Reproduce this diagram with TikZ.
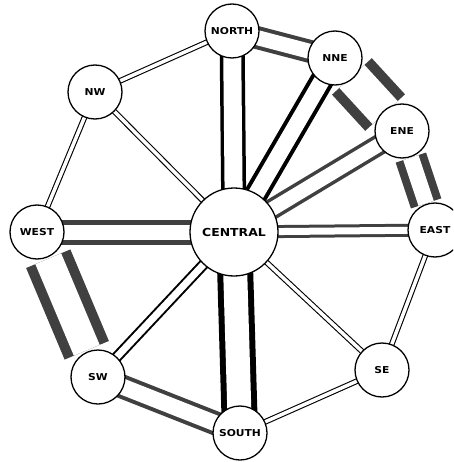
\documentclass[tikz,border=0pt]{standalone}
\usepackage{fontspec}
\newfontfamily\labfont[FakeStretch=1.13]{DejaVu Sans Bold}
\usetikzlibrary{backgrounds}
\begin{document}
\begin{tikzpicture}[x=1pt,y=-1pt,
  stn/.style={circle, draw=black, line width=1.3pt, fill=white, minimum size=54pt, inner sep=0pt,
              font=\labfont\fontsize{9.5}{10}\selectfont},
  hub/.style={stn, minimum size=88pt, font=\labfont\fontsize{11}{11}\selectfont},
  thinpair/.style={draw=black, line width=1.1pt, double=white, double distance=3.5pt},
  midpair/.style={draw=black, line width=2pt, double=white, double distance=7pt},
  blackpair/.style={draw=black, line width=4pt, double=white, double distance=16pt},
  hatchpair/.style={draw=black!75, line width=3.5pt, double=white, double distance=14pt},
  band/.style={draw=black!75, line width=10pt, double=white, double distance=28pt}
]
\useasboundingbox (0,0) rectangle (453,462);
\clip (0,0) rectangle (453,462);
% stations
\node[hub] (c)   at (234,232) {CENTRAL};
\node[stn] (n)   at (232,31)  {NORTH};
\node[stn] (nne) at (335,58)  {NNE};
\node[stn] (ene) at (402,131) {ENE};
\node[stn] (e)   at (435,230) {EAST};
\node[stn] (se)  at (382,370) {SE};
\node[stn] (s)   at (240,433) {SOUTH};
\node[stn] (sw)  at (98,377)  {SW};
\node[stn] (w)   at (37,232)  {WEST};
\node[stn] (nw)  at (95,92)   {NW};
% channels
\begin{scope}[on background layer]
  % thin double lines
  \draw[thinpair] (nw.center) -- (n.center);
  \draw[thinpair] (nw.center) -- (w.center);
  \draw[thinpair] (nw.center) -- (c.center);
  \draw[thinpair] (c.center) -- (se.center);
  \draw[thinpair] (se.center) -- (s.center);
  \draw[thinpair] (se.center) -- (e.center);
  % medium double line
  \draw[midpair] (sw.center) -- (c.center);
  % heavy black pairs
  \draw[blackpair, line width=3.5pt, double distance=18pt] (n.center) -- (c.center);
  \draw[blackpair] (nne.center) -- (c.center);
  \draw[blackpair, line width=6pt, double distance=24pt] (s.center) -- (c.center);
  % hatched pairs
  \draw[hatchpair, line width=3pt, double distance=7pt] (c.center) -- (e.center);
  \draw[hatchpair, line width=5pt, double distance=15pt] (c.center) -- (w.center);
  \draw[hatchpair] (c.center) -- (ene.center);
  \draw[hatchpair, line width=4pt, double distance=15pt] (n.center) -- (nne.center);
  \draw[hatchpair, line width=4pt, double distance=16pt] (sw.center) -- (s.center);
  % thick hatched bands
  \draw[band, double distance=34pt, shorten <=25pt, shorten >=25pt] (nne.center) -- (ene.center);
  \draw[band, line width=8pt, double distance=16pt, shorten <=28pt, shorten >=28pt] (ene.center) -- (e.center);
  \draw[band, shorten <=29pt, shorten >=29pt] (w.center) -- (sw.center);
\end{scope}
\end{tikzpicture}
\end{document}
